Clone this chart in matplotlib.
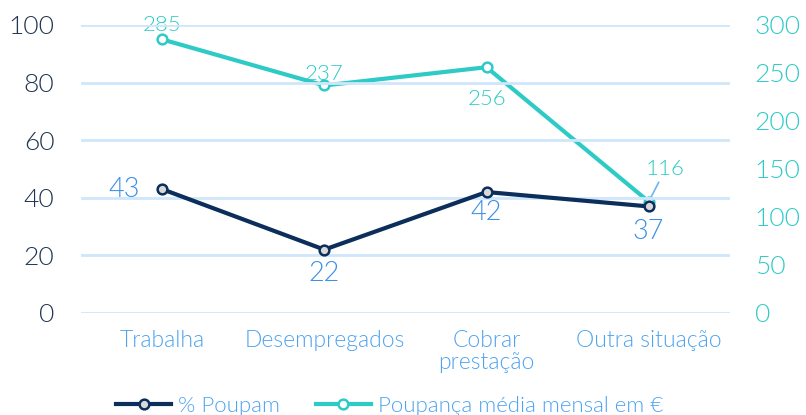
import matplotlib
matplotlib.use('Agg')
import matplotlib.pyplot as plt

plt.rcParams['font.family'] = ['Lato', 'DejaVu Sans']
plt.rcParams['font.weight'] = 300

# 資料
categorias = ['Trabalha', 'Desempregados', 'Cobrar\nprestação', 'Outra situação']
pct_poupam = [43, 22, 42, 37]
poupanca_media = [285, 237, 256, 116]

NAVY = '#0B2F5A'
TEAL = '#2ECBC6'
LBLUE = '#3A8FE6'
CAT_BLUE = '#4DA3F0'
GRID = '#CFE6FB'

fig = plt.figure(figsize=(8.06, 4.15), dpi=100, facecolor='white')
ax = fig.add_axes([0.1005, 0.2458, 0.805, 0.694])
ax2 = ax.twinx()

x = list(range(len(categorias)))

ax.set_ylim(0, 100)
ax.set_yticks([0, 20, 40, 60, 80, 100])
ax2.set_ylim(0, 300)
ax2.set_yticks([0, 50, 100, 150, 200, 250, 300])
ax.set_xlim(-0.5, len(categorias) - 0.5)

ax.yaxis.grid(True, color=GRID, linewidth=2)
ax.set_axisbelow(True)
for a in (ax, ax2):
    for s in a.spines.values():
        s.set_visible(False)
    a.tick_params(length=0)

ax.tick_params(axis='y', labelsize=19, labelcolor='#1F3550', pad=19)
ax2.tick_params(axis='y', labelsize=19, labelcolor=TEAL, pad=18)
ax.set_xticks(x)
ax.set_xticklabels(categorias, fontsize=16.5, color=CAT_BLUE, linespacing=1.05)
ax.tick_params(axis='x', pad=12)

l1, = ax.plot(x, pct_poupam, color=NAVY, linewidth=3, marker='o', markersize=7,
              markerfacecolor='#D9D9D9', markeredgecolor=NAVY, markeredgewidth=1.8,
              label='% Poupam', zorder=4)
l2, = ax2.plot(x, poupanca_media, color=TEAL, linewidth=3, marker='o', markersize=7,
               markerfacecolor='white', markeredgecolor=TEAL, markeredgewidth=1.8,
               label='Poupança média mensal em €', zorder=3)
ax2.set_zorder(ax.get_zorder() - 1)
ax.patch.set_visible(False)

# 標籤
offs1 = [(-16, 0, 'right', 'center'), (0, -8, 'center', 'top'),
         (0, -6, 'center', 'top'), (0, -9, 'center', 'top')]
for xi, v, (dx, dy, ha, va) in zip(x, pct_poupam, offs1):
    ax.annotate(str(v), (xi, v), xytext=(dx, dy), textcoords='offset points',
                ha=ha, va=va, fontsize=19.5, color=LBLUE)

offs2 = [(0, 3, 'center', 'bottom'), (0, 1, 'center', 'bottom'),
         (0, -16, 'center', 'top')]
for xi, v, (dx, dy, ha, va) in zip(x[:3], poupanca_media[:3], offs2):
    ax2.annotate(str(v), (xi, v), xytext=(dx, dy), textcoords='offset points',
                 ha=ha, va=va, fontsize=16, color=TEAL)
ax2.annotate(str(poupanca_media[3]), (x[3], poupanca_media[3]), xytext=(12, 16),
             textcoords='offset points', ha='center', va='bottom', fontsize=16, color=TEAL,
             arrowprops=dict(arrowstyle='-', color='#6FB4F0', linewidth=1.2,
                             shrinkA=0, shrinkB=3))

fig.legend(handles=[l1, l2], loc='lower left', bbox_to_anchor=(0.119, -0.05),
           ncol=2, frameon=False, fontsize=16, handlelength=2.5, columnspacing=1.6,
           handletextpad=0.3, labelcolor=CAT_BLUE)

fig.savefig('out.png', dpi=100)
